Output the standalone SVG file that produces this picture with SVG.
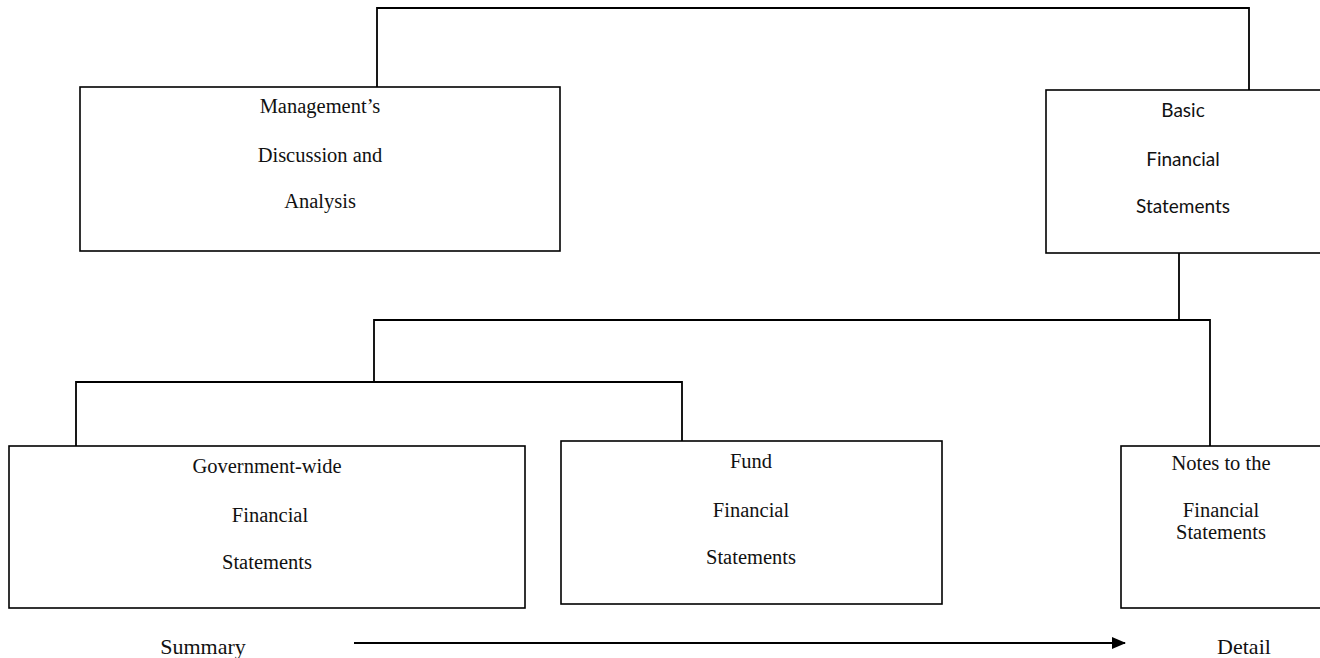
<svg xmlns="http://www.w3.org/2000/svg" width="1320" height="658" viewBox="0 0 1320 658">
  <style>
    .box { fill: #ffffff; stroke: #000000; stroke-width: 1.6; }
    .conn { fill: none; stroke: #000000; stroke-width: 1.8; }
    .t { font-family: "Liberation Serif", "Times New Roman", serif; font-size: 20.5px; fill: #111111; text-anchor: middle; }
    .s { font-family: Lato, "Liberation Sans", sans-serif; font-size: 19px; fill: #111111; text-anchor: middle; }
    .lab { font-family: "Liberation Serif", "Times New Roman", serif; font-size: 22px; fill: #111111; text-anchor: middle; }
  </style>
  <defs>
    <marker id="arrow" markerWidth="14" markerHeight="12" refX="13" refY="6" orient="auto" markerUnits="userSpaceOnUse">
      <polygon points="0,0 14,6 0,12" fill="#000000"/>
    </marker>
  </defs>
  <rect width="1320" height="658" fill="#ffffff"/>

  <g id="connectors">
    <polyline class="conn" points="377,87 377,8 1249,8 1249,90"/>
    <polyline class="conn" points="1179,253 1179,320"/>
    <polyline class="conn" points="374,381 374,320 1210,320 1210,446"/>
    <polyline class="conn" points="76,446 76,382 682,382 682,441"/>
    <line class="conn" x1="354" y1="643" x2="1125" y2="643" marker-end="url(#arrow)"/>
  </g>

  <g id="mdna">
    <rect class="box" x="80" y="87" width="480" height="164"/>
    <text class="t" x="320" y="113">Management’s</text>
    <text class="t" x="320" y="162">Discussion and</text>
    <text class="t" x="320" y="208">Analysis</text>
  </g>

  <g id="basic">
    <rect class="box" x="1046" y="90" width="280" height="163"/>
    <text class="s" x="1183" y="117">Basic</text>
    <text class="s" x="1183" y="166">Financial</text>
    <text class="s" x="1183" y="213">Statements</text>
  </g>

  <g id="govwide">
    <rect class="box" x="9" y="446" width="516" height="162"/>
    <text class="t" x="267" y="473">Government-wide</text>
    <text class="t" x="270" y="522">Financial</text>
    <text class="t" x="267" y="569">Statements</text>
  </g>

  <g id="fund">
    <rect class="box" x="561" y="441" width="381" height="163"/>
    <text class="t" x="751" y="468">Fund</text>
    <text class="t" x="751" y="517">Financial</text>
    <text class="t" x="751" y="564">Statements</text>
  </g>

  <g id="notes">
    <rect class="box" x="1121" y="446" width="205" height="162"/>
    <text class="t" x="1221" y="470">Notes to the</text>
    <text class="t" x="1221" y="517">Financial</text>
    <text class="t" x="1221" y="539">Statements</text>
  </g>

  <g id="labels">
    <text class="lab" x="203" y="654">Summary</text>
    <text class="lab" x="1244" y="654">Detail</text>
  </g>
</svg>
